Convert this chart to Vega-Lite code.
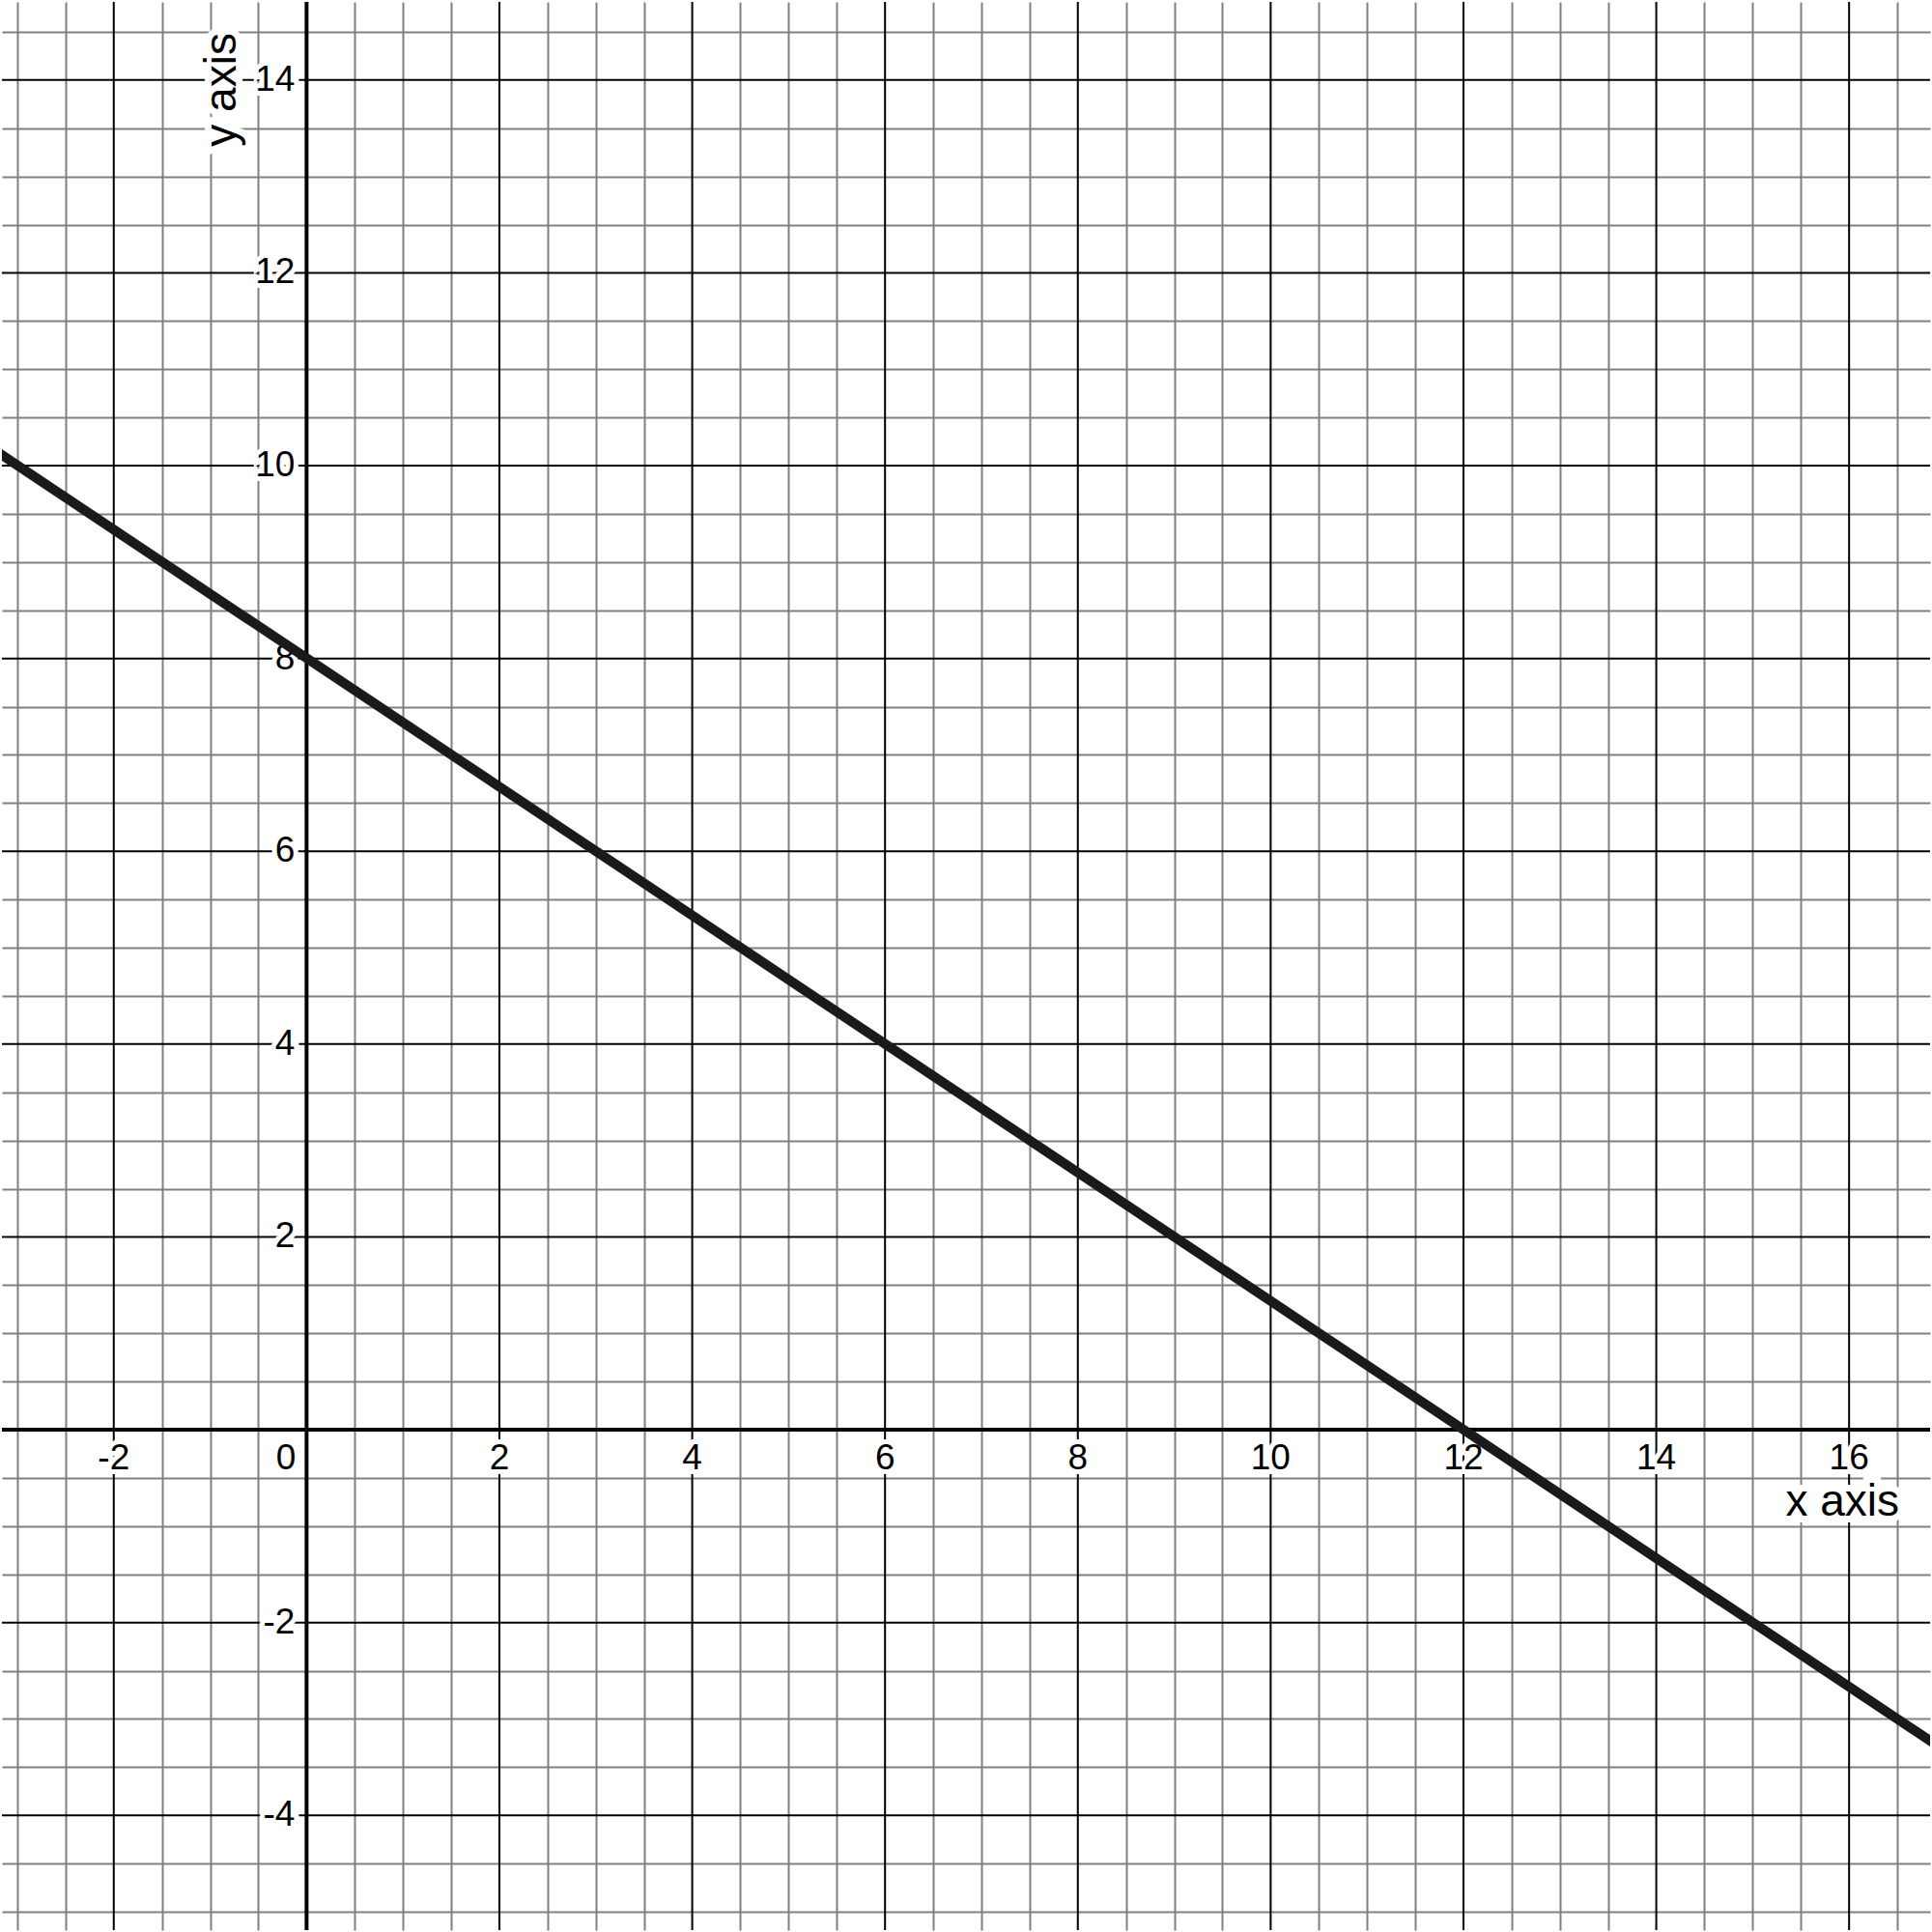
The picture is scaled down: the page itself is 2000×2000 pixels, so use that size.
{
  "$schema": "https://vega.github.io/schema/vega-lite/v6.json",
  "description": "Graph of a straight line on a square grid",
  "width": 2000,
  "height": 2000,
  "autosize": {"type": "fit", "contains": "padding"},
  "padding": 0,
  "config": {
    "view": {"stroke": null},
    "axis": {"labels": false, "ticks": false, "domain": false, "title": null, "grid": true},
    "text": {"font": "Liberation Sans", "color": "#000000"}
  },
  "datasets": {
    "line": [
      {"x": -4, "y": 10.67},
      {"x": 18, "y": -4}
    ],
    "xlabels": [
      {"x": -2, "label": "-2"},
      {"x": 2, "label": "2"},
      {"x": 4, "label": "4"},
      {"x": 6, "label": "6"},
      {"x": 8, "label": "8"},
      {"x": 10, "label": "10"},
      {"x": 12, "label": "12"},
      {"x": 14, "label": "14"},
      {"x": 16, "label": "16"}
    ],
    "ylabels": [
      {"y": -4, "label": "-4"},
      {"y": -2, "label": "-2"},
      {"y": 2, "label": "2"},
      {"y": 4, "label": "4"},
      {"y": 6, "label": "6"},
      {"y": 8, "label": "8"},
      {"y": 10, "label": "10"},
      {"y": 12, "label": "12"},
      {"y": 14, "label": "14"}
    ],
    "origin": [{"x": 0, "y": 0, "label": "0"}],
    "titles": [
      {"x": 16.52, "y": -0.89, "label": "x axis", "kind": "x"},
      {"x": -0.74, "y": 13.31, "label": "y axis", "kind": "y"}
    ]
  },
  "layer": [
    {
      "data": {"name": "line"},
      "mark": {"type": "line", "opacity": 0, "clip": true},
      "encoding": {
        "x": {"field": "x", "type": "quantitative",
          "scale": {"domain": [-3.16, 16.84], "nice": false, "zero": false},
          "axis": {"gridColor": "#808080", "gridWidth": 2,
            "values": [-3, -2.5, -1.5, -1, -0.5, 0.5, 1, 1.5, 2.5, 3, 3.5, 4.5, 5, 5.5, 6.5, 7, 7.5, 8.5, 9, 9.5, 10.5, 11, 11.5, 12.5, 13, 13.5, 14.5, 15, 15.5, 16.5]}},
        "y": {"field": "y", "type": "quantitative",
          "scale": {"domain": [-5.19, 14.81], "nice": false, "zero": false},
          "axis": {"gridColor": "#808080", "gridWidth": 2,
            "values": [-5, -4.5, -3.5, -3, -2.5, -1.5, -1, -0.5, 0.5, 1, 1.5, 2.5, 3, 3.5, 4.5, 5, 5.5, 6.5, 7, 7.5, 8.5, 9, 9.5, 10.5, 11, 11.5, 12.5, 13, 13.5, 14.5]}}
      }
    },
    {
      "data": {"name": "xlabels"},
      "mark": {"type": "rule", "color": "#000000", "strokeWidth": 2},
      "encoding": {"x": {"field": "x", "type": "quantitative"}}
    },
    {
      "data": {"name": "ylabels"},
      "mark": {"type": "rule", "color": "#000000", "strokeWidth": 2},
      "encoding": {"y": {"field": "y", "type": "quantitative"}}
    },
    {
      "data": {"name": "origin"},
      "mark": {"type": "rule", "color": "#000000", "strokeWidth": 4},
      "encoding": {"x": {"field": "x", "type": "quantitative"}}
    },
    {
      "data": {"name": "origin"},
      "mark": {"type": "rule", "color": "#000000", "strokeWidth": 4},
      "encoding": {"y": {"field": "y", "type": "quantitative"}}
    },
    {
      "data": {"name": "xlabels"},
      "mark": {"type": "text", "fontSize": 37, "align": "center", "baseline": "alphabetic", "dy": 41, "stroke": "#ffffff", "strokeWidth": 10, "fill": "#ffffff"},
      "encoding": {
        "x": {"field": "x", "type": "quantitative"},
        "y": {"datum": 0, "type": "quantitative"},
        "text": {"field": "label"}
      }
    },
    {
      "data": {"name": "xlabels"},
      "mark": {"type": "text", "fontSize": 37, "align": "center", "baseline": "alphabetic", "dy": 41},
      "encoding": {
        "x": {"field": "x", "type": "quantitative"},
        "y": {"datum": 0, "type": "quantitative"},
        "text": {"field": "label"}
      }
    },
    {
      "data": {"name": "ylabels"},
      "mark": {"type": "text", "fontSize": 37, "align": "right", "baseline": "middle", "dx": -12, "stroke": "#ffffff", "strokeWidth": 10, "fill": "#ffffff"},
      "encoding": {
        "x": {"datum": 0, "type": "quantitative"},
        "y": {"field": "y", "type": "quantitative"},
        "text": {"field": "label"}
      }
    },
    {
      "data": {"name": "ylabels"},
      "mark": {"type": "text", "fontSize": 37, "align": "right", "baseline": "middle", "dx": -12},
      "encoding": {
        "x": {"datum": 0, "type": "quantitative"},
        "y": {"field": "y", "type": "quantitative"},
        "text": {"field": "label"}
      }
    },
    {
      "data": {"name": "origin"},
      "mark": {"type": "text", "fontSize": 37, "align": "right", "baseline": "alphabetic", "dx": -11, "dy": 41, "stroke": "#ffffff", "strokeWidth": 10, "fill": "#ffffff"},
      "encoding": {
        "x": {"field": "x", "type": "quantitative"},
        "y": {"field": "y", "type": "quantitative"},
        "text": {"field": "label"}
      }
    },
    {
      "data": {"name": "origin"},
      "mark": {"type": "text", "fontSize": 37, "align": "right", "baseline": "alphabetic", "dx": -11, "dy": 41},
      "encoding": {
        "x": {"field": "x", "type": "quantitative"},
        "y": {"field": "y", "type": "quantitative"},
        "text": {"field": "label"}
      }
    },
    {
      "data": {"name": "titles"},
      "transform": [{"filter": "datum.kind === 'x'"}],
      "mark": {"type": "text", "fontSize": 46, "align": "right", "baseline": "alphabetic", "stroke": "#ffffff", "strokeWidth": 14, "fill": "#ffffff"},
      "encoding": {
        "x": {"field": "x", "type": "quantitative"},
        "y": {"field": "y", "type": "quantitative"},
        "text": {"field": "label"}
      }
    },
    {
      "data": {"name": "titles"},
      "transform": [{"filter": "datum.kind === 'x'"}],
      "mark": {"type": "text", "fontSize": 46, "align": "right", "baseline": "alphabetic"},
      "encoding": {
        "x": {"field": "x", "type": "quantitative"},
        "y": {"field": "y", "type": "quantitative"},
        "text": {"field": "label"}
      }
    },
    {
      "data": {"name": "titles"},
      "transform": [{"filter": "datum.kind === 'y'"}],
      "mark": {"type": "text", "fontSize": 46, "align": "left", "baseline": "alphabetic", "angle": 270, "stroke": "#ffffff", "strokeWidth": 14, "fill": "#ffffff"},
      "encoding": {
        "x": {"field": "x", "type": "quantitative"},
        "y": {"field": "y", "type": "quantitative"},
        "text": {"field": "label"}
      }
    },
    {
      "data": {"name": "titles"},
      "transform": [{"filter": "datum.kind === 'y'"}],
      "mark": {"type": "text", "fontSize": 46, "align": "left", "baseline": "alphabetic", "angle": 270},
      "encoding": {
        "x": {"field": "x", "type": "quantitative"},
        "y": {"field": "y", "type": "quantitative"},
        "text": {"field": "label"}
      }
    },
    {
      "data": {"name": "line"},
      "mark": {"type": "line", "color": "#1a1a1a", "strokeWidth": 10, "clip": true},
      "encoding": {
        "x": {"field": "x", "type": "quantitative"},
        "y": {"field": "y", "type": "quantitative"}
      }
    }
  ]
}
